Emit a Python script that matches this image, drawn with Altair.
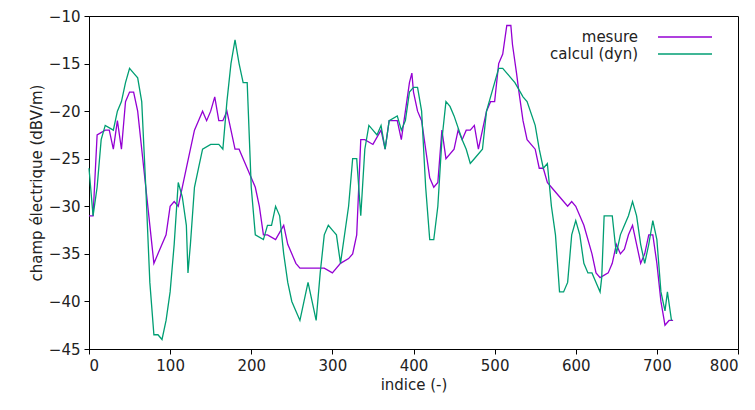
import altair as alt
import pandas as pd

mes_x = [0,5,10,20,25,30,35,40,45,50,55,60,70,75,80,85,90,95,100,105,110,120,130,135,140,145,150,155,160,165,170,175,180,185,190,200,205,210,215,220,230,240,245,250,255,260,270,280,290,300,310,320,325,330,335,340,350,360,365,370,380,385,390,395,398,400,405,410,420,425,430,435,440,450,455,460,465,470,475,480,485,490,495,500,505,510,515,520,522,527,530,535,540,550,555,560,565,570,580,590,595,600,610,620,625,630,640,645,650,655,660,665,670,675,680,685,690,695,700,705,710,715,720]
mes_y = [-31,-31,-22.5,-22,-22,-24,-21,-24,-19,-18,-18,-20,-28,-32,-36,-35,-34,-33,-30,-29.5,-30,-26,-22,-21,-20,-21,-20,-18.5,-21,-21,-20,-22,-24,-24,-25,-27,-28,-30,-33,-33,-33.5,-32,-34,-35,-36,-36.5,-36.5,-36.5,-36.5,-37,-36,-35.5,-35,-33,-23,-23,-23.5,-22,-24,-21,-21,-23,-20,-17,-16,-18,-20,-21,-27,-28,-27.5,-22,-25,-24,-22,-23,-22,-22,-21.5,-24,-22,-20,-19,-19,-15,-14,-11,-11,-13,-16,-18,-21,-23,-24,-26,-26,-27.5,-28,-29,-30,-29.5,-30,-32,-35,-37,-37.5,-37,-36,-34,-35,-34.5,-33,-32,-34,-36,-35,-33,-33,-36,-40,-42.5,-42,-42]

cal_x = [0,5,10,15,20,30,35,40,45,50,55,60,65,70,75,80,85,90,95,100,105,110,115,120,122,125,130,135,140,150,160,165,170,175,180,185,190,195,200,205,215,220,225,230,235,240,245,250,255,260,265,270,275,280,285,290,295,300,305,310,320,325,330,335,340,345,350,355,360,365,370,380,385,390,395,400,405,410,415,420,425,430,435,440,445,450,460,465,470,475,485,490,500,505,510,515,520,525,535,540,550,555,560,565,570,575,580,585,590,595,600,605,610,615,620,625,630,632,635,640,645,650,655,660,665,670,675,680,685,690,695,700,705,710,713,718]
cal_y = [-26,-31,-28,-23,-21.5,-22,-20,-19,-17,-15.5,-16,-16.5,-19,-28,-38,-43.5,-43.5,-44,-42,-39,-34,-27.5,-29,-32,-37,-34,-28,-26,-24,-23.5,-23.5,-24,-19,-15,-12.5,-15,-17,-17,-28,-33,-33.5,-32,-32,-30,-31,-35,-38,-40,-41,-42,-40,-38,-40,-42,-37,-33,-32,-32.5,-33,-36,-30,-25,-25,-31,-24,-21.5,-22,-22.5,-21.5,-24,-21,-20.5,-22,-21,-18,-17.5,-17.5,-20,-28,-33.5,-33.5,-30,-23,-19,-19.5,-20.5,-23,-24,-25.5,-25,-24,-20,-17,-15.5,-15.5,-16,-16.5,-17,-18.5,-19,-21.5,-24,-26,-25.5,-30,-33,-39,-39,-38,-33,-31.5,-33,-36,-37,-37,-38,-39,-37.5,-31,-31,-31,-35,-33,-32,-31,-29.5,-31,-34,-36,-34,-31.5,-33.5,-39,-41,-39,-42]

series = ["mesure", "calcul (dyn)"]
colors = ["#9400d3", "#009e73"]

df = pd.concat([
    pd.DataFrame({"x": mes_x, "y": mes_y, "s": series[0]}),
    pd.DataFrame({"x": cal_x, "y": cal_y, "s": series[1]}),
])
leg = pd.DataFrame({"s": series, "row": [0, 1]})

font = "DejaVu Sans"
cscale = alt.Scale(domain=series, range=colors)

lines = alt.Chart(df).mark_line(strokeWidth=1.3).encode(
    x=alt.X("x:Q", scale=alt.Scale(domain=[0, 800], nice=False),
            axis=alt.Axis(title="indice (-)", values=list(range(0, 801, 100)), grid=False)),
    y=alt.Y("y:Q", scale=alt.Scale(domain=[-45, -10], nice=False),
            axis=alt.Axis(title="champ électrique (dBV/m)", values=list(range(-45, -9, 5)), grid=False)),
    color=alt.Color("s:N", scale=cscale, legend=None),
    order="x:Q",
)

ypos = alt.Y("row:Q", scale=alt.Scale(domain=[0, 1], range=[21, 38]), axis=None)
leg_text = alt.Chart(leg).mark_text(align="right", baseline="middle", fontSize=15, font=font, color="#222").encode(
    x=alt.value(549), y=ypos, text="s:N")
leg_rule = alt.Chart(leg).mark_rule(strokeWidth=1.3).encode(
    x=alt.value(569), x2=alt.value(623), y=ypos,
    color=alt.Color("s:N", scale=cscale, legend=None))

chart = alt.layer(lines, leg_text, leg_rule).resolve_scale(y="independent").properties(
    width=649, height=333,
    autosize=alt.AutoSizeParams(type="none"),
    padding={"left": 81, "top": 8, "right": 9, "bottom": 45},
).configure_view(stroke="black", strokeWidth=1).configure_axis(
    domainColor="black", tickColor="black", labelFont=font, titleFont=font,
    labelFontSize=15, titleFontSize=15, labelColor="#222", titleColor="#222",
    titleFontWeight="normal", labelPadding=4,
)

chart.save("out.html", embed_options={"renderer": "svg", "actions": False})
